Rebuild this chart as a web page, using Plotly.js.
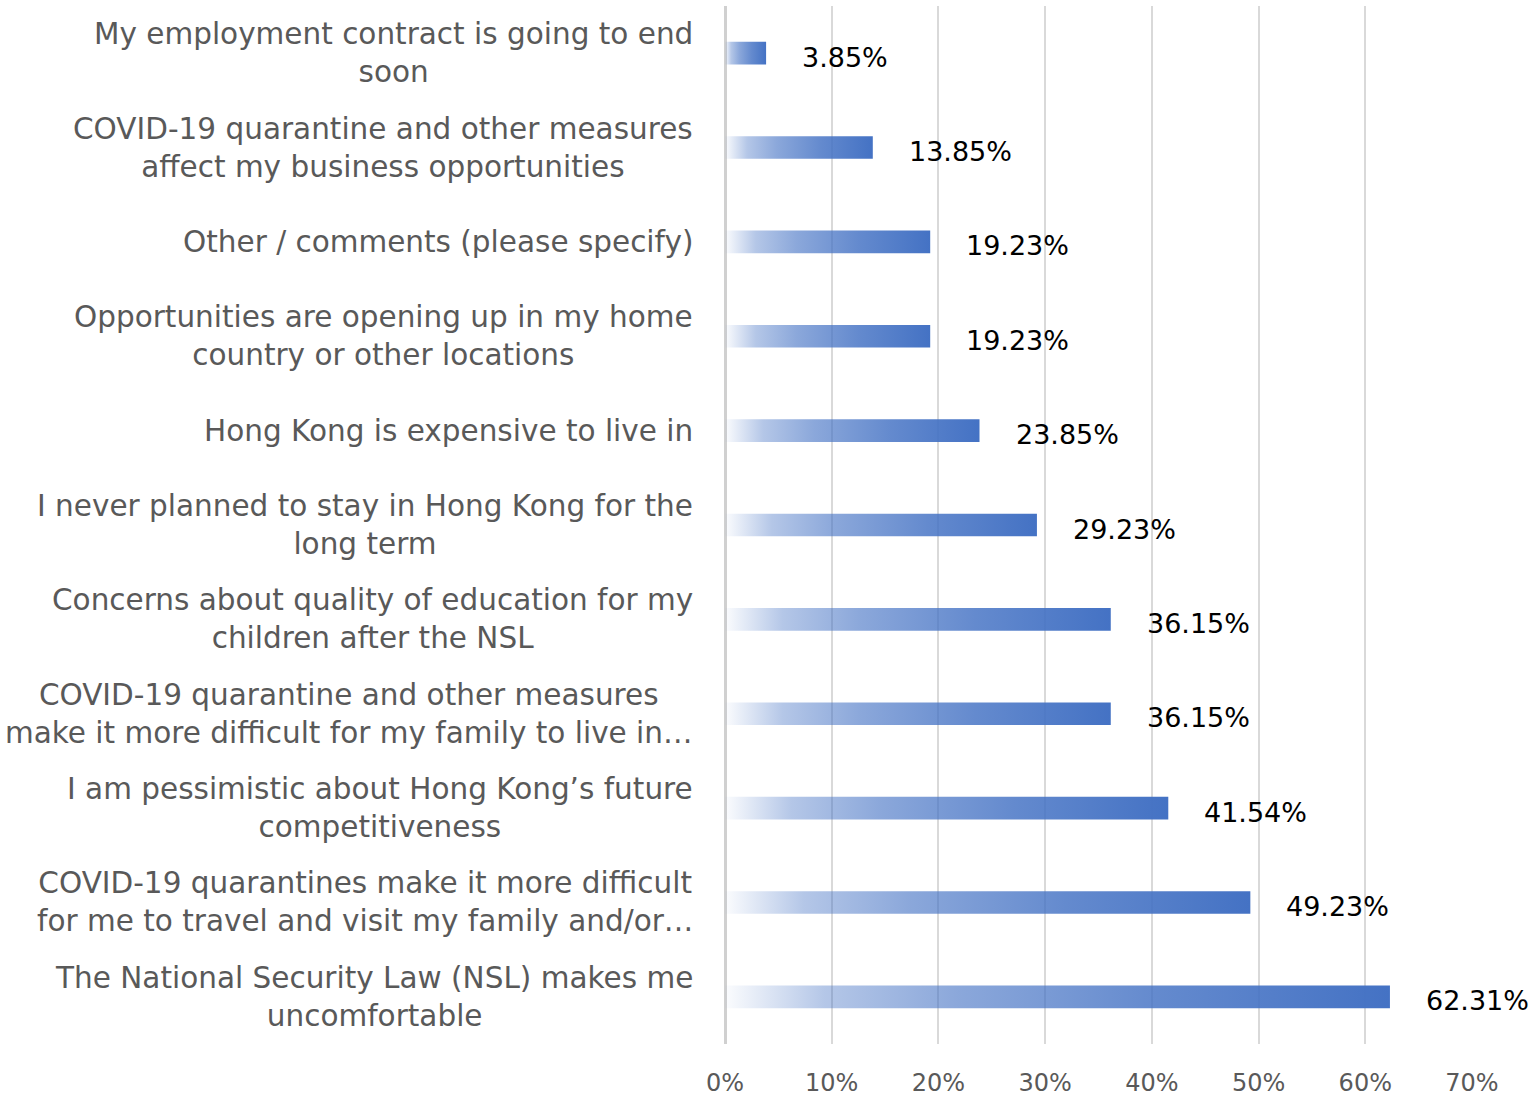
<!DOCTYPE html>
<html><head><meta charset="utf-8">
<script src="https://cdn.plot.ly/plotly-3.0.1.min.js"></script>
<style>html,body{margin:0;padding:0;background:#fff}#chart{width:1537px;height:1102px}</style>
</head><body>
<svg width="0" height="0" style="position:absolute"><defs>
<linearGradient id="barGrad" x1="0" y1="0" x2="1" y2="0">
<stop offset="0" stop-color="#4472C4" stop-opacity="0.02"/>
<stop offset="0.15" stop-color="#4472C4" stop-opacity="0.4"/>
<stop offset="0.35" stop-color="#4472C4" stop-opacity="0.62"/>
<stop offset="0.65" stop-color="#4472C4" stop-opacity="0.83"/>
<stop offset="1" stop-color="#4472C4" stop-opacity="1"/>
</linearGradient></defs></svg>
<div id="chart"></div>
<script>
const categories = [
  "My employment contract is going to end<br>soon",
  "COVID-19 quarantine and other measures<br>affect my business opportunities",
  "Other / comments (please specify)",
  "Opportunities are opening up in my home<br>country or other locations",
  "Hong Kong is expensive to live in",
  "I never planned to stay in Hong Kong for the<br>long term",
  "Concerns about quality of education for my<br>children after the NSL",
  "COVID-19 quarantine and other measures<br>make it more difficult for my family to live in…",
  "I am pessimistic about Hong Kong’s future<br>competitiveness",
  "COVID-19 quarantines make it more difficult<br>for me to travel and visit my family and/or…",
  "The National Security Law (NSL) makes me<br>uncomfortable"
];
const values = [3.85, 13.85, 19.23, 19.23, 23.85, 29.23, 36.15, 36.15, 41.54, 49.23, 62.31];
const valueLabels = ["3.85%", "13.85%", "19.23%", "19.23%", "23.85%", "29.23%", "36.15%", "36.15%", "41.54%", "49.23%", "62.31%"];
const xTickVals = [0, 10, 20, 30, 40, 50, 60, 70];
const xTickText = ["0%", "10%", "20%", "30%", "40%", "50%", "60%", "70%"];

const FONT = "'DejaVu Sans', sans-serif";

const trace = {
  type: 'bar', orientation: 'h',
  x: values, y: categories,
  width: 0.24,
  marker: {color: '#4472C4', line: {width: 0}},
  hoverinfo: 'none'
};

const annotations = [];
categories.forEach((c, i) => {
  annotations.push({
    xref: 'paper', yref: 'y', x: 0, y: c, xanchor: 'right', yanchor: 'middle',
    xshift: -30, text: c, showarrow: false, align: 'center',
    font: {family: FONT, size: 29.5, color: '#595959'}
  });
  annotations.push({
    xref: 'x', yref: 'y', x: values[i], y: c, xanchor: 'left', yanchor: 'middle',
    xshift: 34, yshift: -4, text: valueLabels[i], showarrow: false,
    font: {family: FONT, size: 27, color: '#000000'}
  });
});

const layout = {
  width: 1537, height: 1102,
  margin: {l: 725, r: 65, t: 6, b: 58},
  paper_bgcolor: '#ffffff', plot_bgcolor: '#ffffff',
  showlegend: false,
  font: {family: FONT, color: '#595959'},
  xaxis: {
    range: [0, 70], tickvals: xTickVals, ticktext: xTickText,
    showgrid: true, gridcolor: '#d9d9d9', gridwidth: 2,
    zeroline: true, zerolinecolor: '#d0d0d0', zerolinewidth: 3,
    showline: false, ticks: '', ticklabelstandoff: 22,
    tickfont: {family: FONT, size: 24, color: '#595959'}
  },
  yaxis: {
    type: 'category', autorange: 'reversed', showticklabels: false,
    showgrid: false, zeroline: false, showline: false, ticks: ''
  },
  annotations: annotations
};

Plotly.newPlot('chart', [trace], layout, {staticPlot: true}).then(() => {
  document.querySelectorAll('#chart .barlayer .point path').forEach(p => {
    p.style.fill = 'url(#barGrad)';
    p.style.fillOpacity = 1;
  });
});
</script>
</body></html>
